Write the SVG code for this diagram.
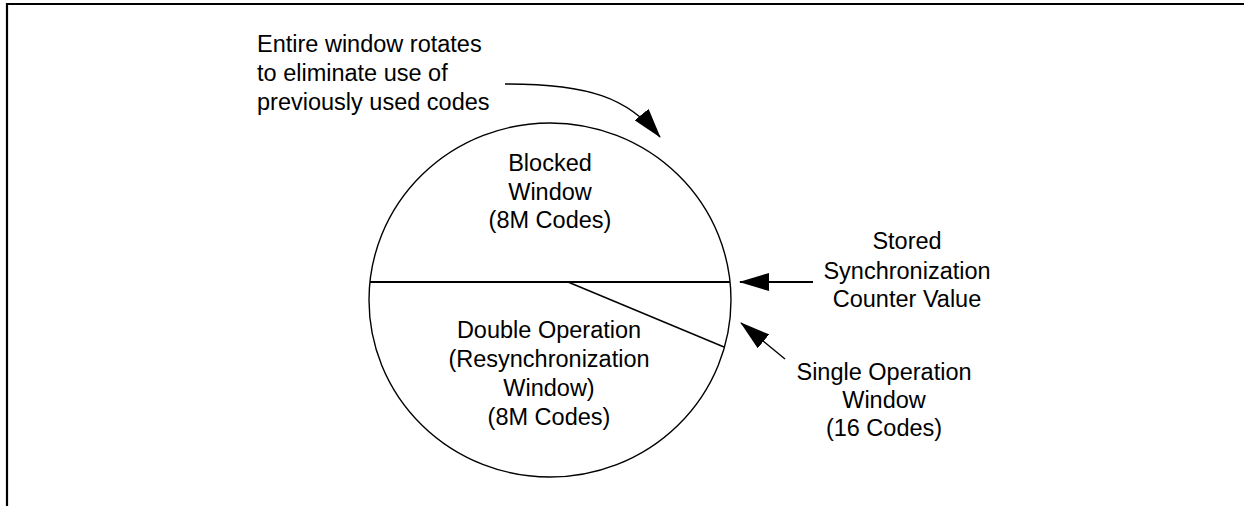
<svg xmlns="http://www.w3.org/2000/svg" width="1244" height="506" viewBox="0 0 1244 506">
<style>
text{font-family:"Liberation Sans",Arial,sans-serif;font-size:23.5px;fill:#000;text-anchor:middle}
.l{text-anchor:start}
.thin{stroke:#000;stroke-width:1.4;fill:none}
.thick{stroke:#000;stroke-width:2.2;fill:none}
</style>
<defs>
<marker id="ah" viewBox="0 0 30 18" markerWidth="30" markerHeight="18" refX="29" refY="9" orient="auto" markerUnits="userSpaceOnUse">
<path d="M0,0 L30,9 L0,18 z" fill="#000"/>
</marker>
</defs>
<g id="frame">
<line x1="7" y1="3" x2="7" y2="506" class="thick"/>
<line x1="6" y1="4" x2="1244" y2="4" class="thick"/>
</g>
<g id="wheel">
<ellipse cx="550" cy="300" rx="181" ry="177" class="thin"/>
<line x1="370" y1="282" x2="730" y2="282" class="thick"/>
<line x1="568" y1="282" x2="724" y2="347" class="thin"/>
</g>
<g id="blocked">
<text x="550" y="171">Blocked</text>
<text x="550" y="200">Window</text>
<text x="550" y="228">(8M Codes)</text>
</g>
<g id="double">
<text x="549" y="338">Double Operation</text>
<text x="549" y="367">(Resynchronization</text>
<text x="549" y="396">Window)</text>
<text x="549" y="425">(8M Codes)</text>
</g>
<g id="rotate-note">
<text class="l" x="257" y="52">Entire window rotates</text>
<text class="l" x="257" y="81">to eliminate use of</text>
<text class="l" x="257" y="110">previously used codes</text>
</g>
<g id="stored">
<text x="907" y="249">Stored</text>
<text x="907" y="279">Synchronization</text>
<text x="907" y="307">Counter Value</text>
</g>
<g id="single">
<text x="884" y="380">Single Operation</text>
<text x="884" y="408">Window</text>
<text x="884" y="436">(16 Codes)</text>
</g>
<g id="connectors">
<path d="M505,84 C590,84 628,98 660,137" class="thin" marker-end="url(#ah)"/>
<line x1="813" y1="282" x2="740" y2="282" class="thick" marker-end="url(#ah)"/>
<line x1="785" y1="359" x2="741" y2="323" class="thin" marker-end="url(#ah)"/>
</g>
</svg>
